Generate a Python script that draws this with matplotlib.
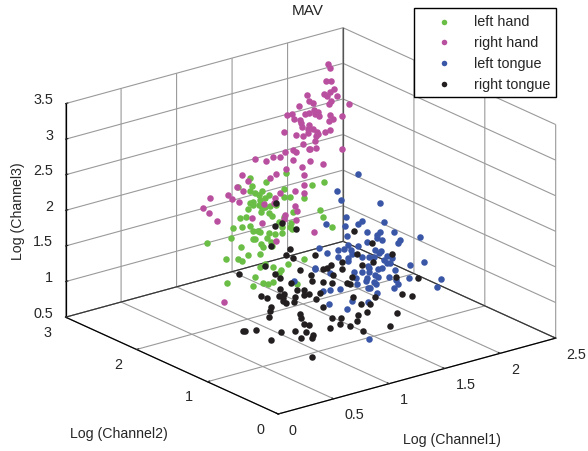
"""MAV scatter of the four motor imagery classes, MATLAB-style 3D box."""
import matplotlib
matplotlib.use("Agg")
import matplotlib.pyplot as plt
from mpl_toolkits.mplot3d import Axes3D  # noqa: F401

plt.rcParams["font.family"] = ["Liberation Sans", "DejaVu Sans"]
plt.rcParams["font.size"] = 10

TEXT = "#262626"
GRID = "#9a9a9a"

labels = ["left hand", "right hand", "left tongue", "right tongue"]
colors = ["#6abd45", "#b94f9f", "#3a56a6", "#231f20"]

x_ticks = [0, 0.5, 1, 1.5, 2, 2.5]
y_ticks = [0, 1, 2, 3]
z_ticks = [0.5, 1, 1.5, 2, 2.5, 3, 3.5]
x_tick_labels = ["0", "0.5", "1", "1.5", "2", "2.5"]
y_tick_labels = ["0", "1", "2", "3"]
z_tick_labels = ["0.5", "1", "1.5", "2", "2.5", "3", "3.5"]

# left hand
lh_x = [.51, .53, .40, .51, .62, .66, 1.07, 1.18, .84, .82, .82, .87, 1.00, .56, .59, .68, .65, .60, .54, .51,
        .54, .49, .59, .62, .65, .69, .75, .61, .68, .71, .48, .42, .36, .44, .51, .80, .87, .88, .82, .90,
        1.14, 1.17, 1.25, .77, .89, .35, .39, .41, .49, .55, .61, .15, .35, .37, .47, .42, .44, .51, .52, .19,
        .24, .41, .30, .10, .21, .25, .81, .66, .46, .41, .53, .60, .58, .37, .11, .35, .44, .48, .53, .74]
lh_y = [1.2] * 45 + [.9] * 14 + [1.3] + [.9] * 20
lh_z = [3.06, 2.93, 2.97, 2.87, 2.83, 2.94, 2.71, 2.71, 2.99, 2.76, 2.65, 2.63, 2.57, 2.82, 2.78, 2.74, 2.71, 2.70, 2.70, 2.70,
        2.66, 2.62, 2.64, 2.59, 2.58, 2.59, 2.57, 2.53, 2.49, 2.44, 2.52, 2.53, 2.42, 2.40, 2.38, 2.24, 2.21, 2.26, 2.37, 2.41,
        2.33, 2.23, 2.05, 2.32, 2.18, 2.52, 2.49, 2.48, 2.42, 2.38, 2.38, 2.50, 2.40, 2.39, 2.36, 2.30, 2.25, 2.29, 2.23, 2.23,
        2.34, 2.17, 2.20, 2.22, 2.18, 2.13, 1.92, 1.92, 2.00, 1.98, 1.93, 1.86, 1.82, 1.86, 1.88, 1.74, 1.74, 1.71, 1.72, 1.60]

# right hand
rh_x = [2.11, 2.13, 2.09, 2.14, 2.16, 2.13, 2.07, 2.10, 2.19, 1.92,
        1.68, 1.72, 1.88, 1.86, 2.04, 1.59, 1.73, 1.68, 1.65, 1.76, 1.74, 1.77, 1.87, 1.48, 1.53, 1.55, 1.86, 1.90, 1.98, 1.60,
        1.61, 1.62, 1.68, 1.67,
        1.46, 1.42, 1.50, 1.51, 1.62, 1.57, 1.20, 1.31, 1.37, 1.49, 1.48, 1.37, 1.43, 1.49, 1.44, 1.72, 1.21, 1.28, 1.31, 1.10,
        1.17, .94, 1.04, 1.28, 1.44, 1.55, 1.36, 1.22,
        .81, 1.06, .50, .76, .56, .22, .38, .41, .48, .15, .21, .28, .51, .46, 1.06, .98, 1.06, .85, .80, .79, .70, .98, .89,
        1.00, .99, .88, .59, .68, 1.15, .81, .15]
rh_y = [2.6] * 10 + [2.2] * 24 + [1.8] * 28 + [1.3] * 30 + [1.0]
rh_z = [3.34, 3.28, 3.11, 3.08, 2.97, 2.93, 2.94, 2.90, 2.86, 2.98,
        3.18, 3.14, 3.10, 3.07, 2.99, 3.15, 3.04, 3.01, 3.01, 3.00, 2.97, 2.94, 2.91, 3.07, 3.06, 2.98, 2.83, 2.84, 2.84, 2.95,
        2.90, 2.84, 2.84, 2.79,
        3.07, 3.03, 3.01, 2.98, 2.98, 2.97, 3.14, 3.05, 3.01, 2.95, 2.89, 2.89, 2.80, 2.78, 2.79, 2.68, 2.85, 2.84, 2.81, 2.83,
        2.79, 2.86, 2.79, 2.70, 2.63, 2.54, 2.58, 2.60,
        2.94, 2.82, 3.06, 2.90, 2.95, 2.85, 2.83, 2.75, 2.69, 2.74, 2.64, 2.50, 2.82, 2.91, 2.68, 2.62, 2.57, 2.65, 2.61, 2.54, 2.56, 2.42, 2.33,
        2.33, 2.22, 2.28, 2.41, 2.31, 1.98, 2.00, 1.55]

# left tongue
lt_x = [1.23, 1.04, 1.08, 1.43, 1.12, 1.27, 1.23, 1.46, .94, 1.11, 1.55, 1.31, 1.13, 1.43, 1.40, 1.40, 1.45, 1.31, 1.79, 1.61,
        1.59, 1.14, 1.23, .88, 1.05, 1.10, 1.17, .95, 1.38, 1.44, 1.42, 1.18, 1.27, 1.05, 1.14, 1.14, 1.33, 1.37, 1.49, 1.54,
        1.46, 1.49, 1.52, 1.82, 1.70, 1.32, 1.33, 1.41, 1.45, 1.56, .84, .84, .98, 1.19, 1.27, 1.33, 1.38, 1.41, 1.51, 1.69,
        1.98, 1.21, 1.31, 1.30, 1.37, 1.39, 1.59, 1.57, 1.22, 1.94, 1.55, 1.32, 1.07, .65, .97, 1.13, 1.33, 1.18, .98, .91,
        1.32, 1.34, 1.40]
lt_y = [.8] * 83
lt_z = [2.99, 2.82, 2.68, 2.49, 2.42, 2.30, 2.28, 2.21, 2.41, 2.30, 2.04, 2.13, 2.15, 2.08, 2.06, 2.01, 1.96, 1.99, 1.86, 1.89,
        1.86, 2.02, 1.97, 2.09, 2.00, 1.98, 1.94, 1.99, 1.85, 1.82, 1.79, 1.88, 1.80, 1.89, 1.84, 1.80, 1.77, 1.76, 1.72, 1.67,
        1.68, 1.63, 1.61, 1.49, 1.50, 1.66, 1.62, 1.58, 1.57, 1.49, 1.83, 1.82, 1.70, 1.62, 1.59, 1.56, 1.50, 1.46, 1.42, 1.33,
        1.19, 1.53, 1.49, 1.45, 1.41, 1.37, 1.28, 1.35, 1.44, 1.09, 1.25, 1.34, 1.44, 1.73, 1.27, 1.13, .62, 1.22, 1.46, 1.48,
        1.15, 1.33, 1.24]

# right tongue
rt_x = [.43, .42, .48, .61, 1.13, 1.29, .55, .52, .58, .78, .38, .33, .09, .42, .46, .64, .74, .75, .56, .85,
        .85, .89, .92, .94, 1.02, 1.02, .93, 1.07, 1.09, 1.11, 1.16, 1.20, 1.30, 1.47, .46, .62, .68, .72, .68, .29,
        .35, .45, .50, .49, .49, .52, .60, .59, .82, .79, .85, 1.12, 1.19, 1.27, 1.32, 1.56, 1.65, 1.25, 1.52, 1.17,
        1.16, .93, 1.01, 1.00, 1.09, .91, 1.21, 1.45, .38, .37, .36, .64, .65, .68, .72, .70, .60, .47, .25, .13,
        .15, .65, .75, .76, .38, .75, 1.71, 1.51]
rt_y = [.7] * 88
rt_z = [2.96, 2.65, 2.66, 2.52, 2.27, 2.04, 2.26, 2.19, 2.12, 2.08, 2.38, 2.12, 2.11, 1.97, 1.90, 1.93, 1.82, 1.73, 1.78, 1.67,
        1.85, 1.85, 1.88, 1.73, 1.88, 1.79, 1.62, 1.56, 1.55, 1.63, 1.93, 1.77, 1.76, 1.80, 1.74, 1.66, 1.63, 1.56, 1.56, 1.71,
        1.66, 1.65, 1.65, 1.60, 1.56, 1.52, 1.57, 1.50, 1.53, 1.46, 1.32, 1.35, 1.22, 1.19, 1.26, 1.21, 1.13, 1.08, .95, 1.07,
        .99, 1.13, 1.10, 1.02, .95, 1.00, .83, .80, 1.53, 1.47, 1.39, 1.32, 1.25, 1.15, 1.13, 1.03, 1.09, 1.14, 1.25, 1.30,
        1.28, .97, .93, .97, 1.06, .66, 1.36, 1.46]

series = [(lh_x, lh_y, lh_z), (rh_x, rh_y, rh_z), (lt_x, lt_y, lt_z), (rt_x, rt_y, rt_z)]

W, H = 588, 452
side = 528
cx, cy = 303.5, 229

fig = plt.figure(figsize=(W / 100, H / 100), dpi=100)
ax = fig.add_axes([(cx - side / 2) / W, 1 - (cy + side / 2) / H, side / W, side / H],
                  projection="3d", proj_type="ortho", computed_zorder=False)
ax.patch.set_alpha(0)
ax.view_init(elev=20.66, azim=-127.77)
ax.set_box_aspect((351.7, 347.8, 228.7))

ax.set_xlim(x_ticks[0], x_ticks[-1])
ax.set_ylim(y_ticks[0], y_ticks[-1])
ax.set_zlim(z_ticks[0], z_ticks[-1])
ax.set_xticks(x_ticks, x_tick_labels)
ax.set_yticks(y_ticks, y_tick_labels)
ax.set_zticks(z_ticks, z_tick_labels)
ax.tick_params(colors=TEXT, labelsize=10.4, pad=2)
ax.tick_params(axis="z", pad=-3)

for t in ax.get_xticklabels():
    t.set_ha("left")
    t.set_va("center")
for t in ax.get_yticklabels():
    t.set_ha("right")
    t.set_va("center")
for t in ax.get_zticklabels():
    t.set_ha("right")
    t.set_va("baseline")

for axis in (ax.xaxis, ax.yaxis, ax.zaxis):
    axis.set_pane_color((1, 1, 1, 0))
    axis.pane.set_edgecolor((1, 1, 1, 0))
    axis.line.set_color("black")
    axis.line.set_linewidth(0.9)
    axis._axinfo["grid"].update(color=GRID, linewidth=0.8)
    axis._axinfo["tick"].update(inward_factor=0.0, outward_factor=0.1)

# dark edges of the back walls
xlo, xhi = x_ticks[0], x_ticks[-1]
ylo, yhi = y_ticks[0], y_ticks[-1]
zlo, zhi = z_ticks[0], z_ticks[-1]
ax.plot([xlo, xhi, xhi], [yhi, yhi, ylo], [zlo, zlo, zlo], color="#333333", lw=0.8, zorder=1)
ax.plot([xhi, xhi], [yhi, yhi], [zlo, zhi], color="#555555", lw=0.9, zorder=1)

for (xs, ys, zs), c, lab in zip(series, colors, labels):
    ax.scatter(xs, ys, zs, s=22, c=c, linewidths=0, depthshade=False, label=lab, zorder=3)

handles, leg_labels = ax.get_legend_handles_labels()
leg = fig.legend(handles, leg_labels, loc="upper left", bbox_to_anchor=(414 / W, 1 - 9 / H),
                 borderaxespad=0, frameon=True, fancybox=False, framealpha=1, edgecolor="black",
                 fontsize=10.4, markerscale=0.85, scatterpoints=1, borderpad=0.45, labelspacing=0.47,
                 handlelength=3.2, handletextpad=0.47)
leg.get_frame().set_linewidth(1.0)
for t in leg.get_texts():
    t.set_color(TEXT)

fig.text(308 / W, 1 - 11 / H, "MAV", ha="center", va="center", fontsize=11, color=TEXT)
fig.text(18 / W, 1 - 211 / H, "Log (Channel3)", rotation=90, ha="center", va="center", fontsize=10.2, color=TEXT)
fig.text(119 / W, 1 - 434 / H, "Log (Channel2)", ha="center", va="center", fontsize=10.2, color=TEXT)
fig.text(452 / W, 1 - 440 / H, "Log (Channel1)", ha="center", va="center", fontsize=10.2, color=TEXT)

fig.savefig("out.png", dpi=100)
